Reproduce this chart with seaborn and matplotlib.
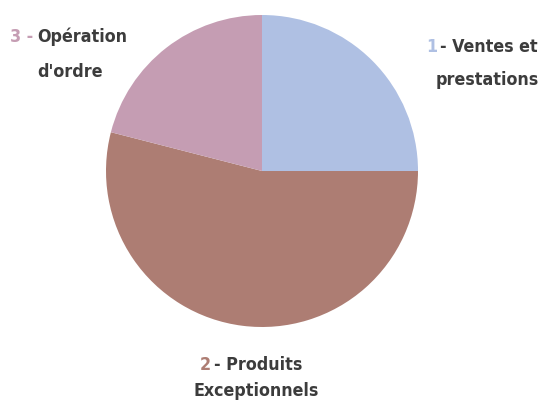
import matplotlib
matplotlib.use("Agg")
import matplotlib.pyplot as plt
import seaborn as sns

sns.set_theme(style="white")
plt.rcParams['font.family'] = ['Liberation Sans Narrow', 'DejaVu Sans']

# data
numbers = ['1', '2', '3']
names = ['Ventes et\nprestations', 'Produits\nExceptionnels', "Opération\nd'ordre"]
shares = [25, 54, 21]
colors = ['#AFC0E3', '#AD7D73', '#C59DB3']
text_color = '#3C3C3C'

W, H = 543, 405
fig = plt.figure(figsize=(W / 100, H / 100), dpi=100)
cx, cy, r = 262, 171, 156
ax = fig.add_axes([(cx - r) / W, (H - cy - r) / H, 2 * r / W, 2 * r / H])
ax.pie(shares, colors=colors, startangle=90, counterclock=False,
       wedgeprops=dict(linewidth=0))
ax.set_xlim(-1, 1)
ax.set_ylim(-1, 1)
ax.set_aspect('equal')
ax.axis('off')

# label anchors (px): split x between number and name, first line y, second line center x, gap
anchors = [(437, 47, 487, 33), (211, 365, 256, 26), (33, 37, 70, 35)]

for num, name, col, (sx, y1, x2, gap) in zip(numbers, names, colors, anchors):
    first, second = name.split('\n')
    kw = dict(fontsize=12.8, fontweight='bold', fontstretch='condensed', va='center')
    if num == '3':
        fig.text(sx / W, 1 - y1 / H, num + ' -', color=col, ha='right', **kw)
        fig.text((sx + 4) / W, 1 - y1 / H, first, color=text_color, ha='left', **kw)
    else:
        fig.text(sx / W, 1 - y1 / H, num, color=col, ha='right', **kw)
        fig.text((sx + 3) / W, 1 - y1 / H, '- ' + first, color=text_color, ha='left', **kw)
    fig.text(x2 / W, 1 - (y1 + gap) / H, second, color=text_color, ha='center', **kw)

fig.savefig('out.png', dpi=100, facecolor='white')
